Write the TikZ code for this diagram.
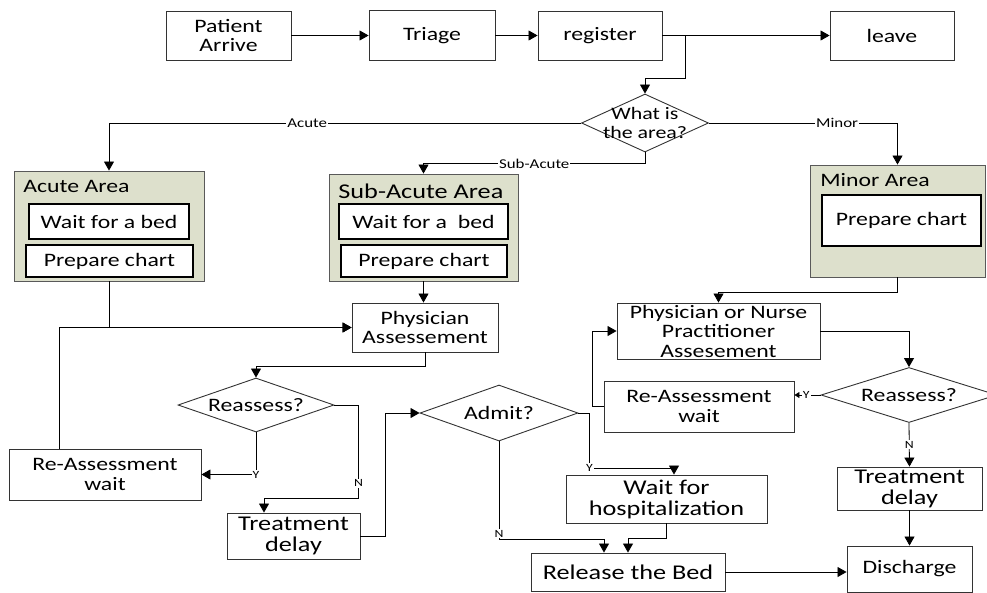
\documentclass[tikz,border=0pt]{standalone}
\usepackage{fontspec}
\setmainfont{Carlito}[FakeStretch=1.25]
\usepackage{tikz}
\usetikzlibrary{arrows.meta,shapes.geometric}
\definecolor{areagreen}{RGB}{221,224,204}
\newcommand\dtext[1]{\makebox[0pt]{\smash{\raisebox{-7pt}{\begin{tabular}{@{}c@{}}#1\end{tabular}}}}}

\begin{document}
\begin{tikzpicture}[x=1pt,y=-1pt,
            every node/.style={inner sep=0pt, font=\fontsize{19}{19.5}\selectfont},
            box/.style={draw=black!80, line width=0.9pt, fill=white, align=center},
            bigbox/.style={box, font=\fontsize{21}{21}\selectfont},
            inbox/.style={draw=black, line width=1.4pt, fill=white},
            area/.style={draw=black!65, line width=0.9pt, fill=areagreen},
            choice/.style={draw=black!80, line width=0.9pt, diamond, fill=white},
            lbl/.style={fill=white, inner sep=1pt, font=\fontsize{13.5}{13.5}\selectfont},
            yn/.style={lbl, font=\fontsize{11}{11}\selectfont},
            every path/.style={line width=0.8pt},
            >={Triangle[length=9pt,width=10pt]}]
            \useasboundingbox (0,0) rectangle (987,592);
            
            \node[box, minimum width=125, minimum height=49] (arrive) at (228.5,35.5) {Patient\\Arrive};
            \node[box, minimum width=126, minimum height=50] (triage) at (432,35.5) {Triage};
            \node[box, minimum width=124, minimum height=49] (register) at (600,35.5) {register};
            \node[box, minimum width=124, minimum height=49] (leave) at (892,35.5) {leave};
            \node[choice, minimum width=127, minimum height=58, font=\fontsize{17.5}{19}\selectfont] (area) at (645,123) {\dtext{What is\\the area?}};
            
            \node[area, minimum width=190, minimum height=110] (acute) at (109,226) {};
            \node[anchor=west] (acuteT) at (23,186) {Acute Area};
            \node[inbox, minimum width=160, minimum height=35] (acuteW) at (109,221.5) {Wait for a bed};
            \node[inbox, minimum width=167, minimum height=32] (acuteC) at (109.5,261) {Prepare chart};
            
            \node[area, minimum width=189, minimum height=107] (sub) at (423.5,227.5) {};
            \node[anchor=west, font=\fontsize{21}{21}\selectfont] (subT) at (338,191) {Sub-Acute Area};
            \node[inbox, minimum width=169, minimum height=35] (subW) at (423.5,221.5) {Wait for a~ bed};
            \node[inbox, minimum width=166, minimum height=32] (subC) at (424,261) {Prepare chart};
            
            \node[area, minimum width=175, minimum height=112] (minor) at (897.5,221) {};
            \node[anchor=west] (minorT) at (820,180) {Minor Area};
            \node[inbox, minimum width=159, minimum height=51] (minorC) at (901.5,220.5) {Prepare chart};
            
            \node[box, minimum width=146, minimum height=49] (phys) at (425,327.5) {Physician\\Assessement};
            \node[choice, minimum width=156, minimum height=54] (reassL) at (256,405) {\dtext{Reassess?}};
            \node[box, minimum width=192, minimum height=51] (rewaitL) at (105,474.5) {Re-Assessment\\wait};
            \node[bigbox, minimum width=133, minimum height=46] (delayL) at (293.5,536) {Treatment\\delay};
            \node[choice, minimum width=158, minimum height=56] (admit) at (499,413) {\dtext{Admit?}};
            \node[bigbox, minimum width=201, minimum height=48] (hosp) at (666.5,499) {Wait for\\hospitalization};
            \node[bigbox, minimum width=194, minimum height=38] (release) at (628,572) {Release the Bed};
            \node[box, minimum width=125, minimum height=46] (discharge) at (909.5,569) {Discharge};
            
            \node[box, minimum width=203, minimum height=56] (pna) at (718.5,331) {Physician or Nurse\\Practitioner\\Assesement};
            \node[choice, minimum width=176, minimum height=55] (reassR) at (909,395) {\dtext{Reassess?}};
            \node[box, minimum width=190, minimum height=51] (rewaitR) at (699,406.5) {Re-Assessment\\wait};
            \node[bigbox, minimum width=145, minimum height=43] (delayR) at (909.5,488.5) {Treatment\\delay};
            
            \coordinate (split) at (685,35.5);
            \draw[->] (arrive) -- (triage);
            \draw[->] (triage) -- (register);
            \draw[->] (register) -- (leave);
            \draw[->] (split) -- ++(0,43) -| (area.north);
            \draw[->] (area.west) -| node[lbl,pos=0.29]{Acute} (acute.north);
            \draw[->] (area.south) -- ++(0,11) -| node[lbl,pos=0.25]{Sub-Acute} (sub.north);
            \draw[->] (area.east) -| node[lbl,pos=0.34]{Minor} (minor.north);
            
            \draw[->] (sub.south) -- (sub.south |- phys.north);
            \draw[->] (acute.south) |- (phys.west);
            \draw[->] ([xshift=-46pt]rewaitL.north) |- (phys.west);
            \draw[->] (phys.south) -- ++(0,14) -| (reassL.north);
            \draw[->] (reassL.south) |- node[yn,pos=0.5]{Y} (rewaitL.east);
            \draw[->] (reassL.east) -- ++(24,0) -- node[yn,pos=0.84]{N} ++(0,93) -| ([xshift=-29.5pt]delayL.north);
            \draw[->] (delayL.east) -- ++(25,0) |- (admit.west);
            \draw[->] (admit.south) -- node[yn,pos=0.94]{N} ++(0,98) -| ([xshift=-24pt]release.north);
            \draw[->] (admit.east) -- ++(11,0) -- node[yn,pos=1]{Y} ++(0,55) -| ([xshift=7.5pt]hosp.north);
            \draw[->] (hosp.south) -- ++(0,15) -| (release.north);
            \draw[->] (release.east) -- (release.east -| discharge.west);
            
            \draw[->] (minor.south) -- ++(0,15) -| (pna.north);
            \draw[->] (pna.east) -| (reassR.north);
            \draw[-{Triangle[length=5pt,width=6pt]}] (reassR.west) -- node[yn,pos=0.55]{Y} (reassR.west -| rewaitR.east);
            \draw[->] (rewaitR.west) -- ++(-11,0) |- (pna.west);
            \draw[->] (reassR.south) -- node[yn]{N} (delayR.north);
            \draw[->] (delayR.south) -- (discharge.north);
        \end{tikzpicture}
\end{document}
